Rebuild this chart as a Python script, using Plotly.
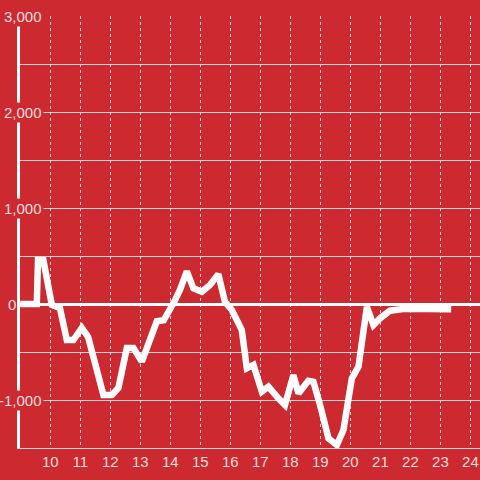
import plotly.graph_objects as go

# hours of day (x) and values (y)
hours = [9.0, 9.55, 9.59, 9.77, 10.05, 10.32, 10.55, 10.77, 11.05, 11.26,
         11.77, 12.05, 12.27, 12.55, 12.77, 13.05, 13.55, 13.78, 14.16, 14.32,
         14.55, 14.77, 15.05, 15.32, 15.6, 15.82, 16.05, 16.38, 16.55, 16.77,
         17.05, 17.27, 17.6, 17.82, 18.1, 18.27, 18.6, 18.77, 18.99, 19.27,
         19.55, 19.77, 19.93, 20.05, 20.27, 20.55, 20.77, 20.99, 21.32, 21.82,
         23.36]
values = [0, 0, 455, 455, -10, -42, -375, -375, -250, -343,
          -948, -948, -875, -458, -458, -600, -180, -170, 42, 146,
          340, 163, 128, 198, 310, 24, -62, -270, -670, -635,
          -913, -861, -983, -1052, -740, -931, -800, -810, -1052, -1400,
          -1469, -1312, -1000, -774, -653, -30, -219, -149, -70, -50,
          -55]

x_ticks = list(range(10, 25))
y_ticks = [3000, 2000, 1000, 0, -1000]
y_tick_labels = ["3,000", "2,000", "1,000", "0", "-1,000"]

BG = "#cc2a30"
LABEL = "#f6dede"
GRID = "#d6d6d6"
FONT = "Liberation Sans, Arial, sans-serif"

fig = go.Figure()
fig.add_trace(go.Scatter(x=hours, y=values, mode="lines",
                         line=dict(color="white", width=6.5),
                         hoverinfo="skip", showlegend=False))

W = 460.0  # plot width in px
annotations = []
for v, t in zip(y_ticks, y_tick_labels):
    if v == 0:
        annotations.append(dict(x=(7 - 20) / W, y=v, xref="paper", yref="y",
                                text=t, showarrow=False, xanchor="left",
                                yanchor="middle", bgcolor=BG, borderpad=0,
                                font=dict(family=FONT, size=15, color=LABEL)))
    else:
        annotations.append(dict(x=(44 - 20) / W, y=v, xref="paper", yref="y",
                                text=t, showarrow=False, xanchor="right",
                                yanchor="middle", bgcolor=BG, borderpad=1,
                                font=dict(family=FONT, size=15, color=LABEL)))

fig.update_layout(
    width=480, height=480, autosize=False,
    margin=dict(l=20, r=0, t=16, b=32, pad=0, autoexpand=False),
    paper_bgcolor=BG, plot_bgcolor=BG,
    font=dict(family=FONT, size=15, color=LABEL),
    annotations=annotations,
    xaxis=dict(range=[8.99, 24.32], tickvals=x_ticks,
               ticktext=[str(t) for t in x_ticks], automargin=False,
               showgrid=True, gridcolor=GRID, gridwidth=1, griddash="3px,3px",
               zeroline=False, showline=True, linecolor=GRID, linewidth=1,
               ticks="", tickfont=dict(family=FONT, size=15, color=LABEL)),
    yaxis=dict(range=[-1500, 3000], dtick=500, showticklabels=False,
               automargin=False,
               showgrid=True, gridcolor=GRID, gridwidth=1,
               zeroline=True, zerolinecolor="white", zerolinewidth=3,
               showline=True, linecolor="white", linewidth=3, ticks=""),
)

fig.write_html(
    "out.html",
    config={"responsive": False, "displayModeBar": False, "staticPlot": True},
    post_script="document.body.style.margin='0';"
                "document.body.style.overflow='hidden';"
                "document.body.style.background='" + BG + "';",
)
